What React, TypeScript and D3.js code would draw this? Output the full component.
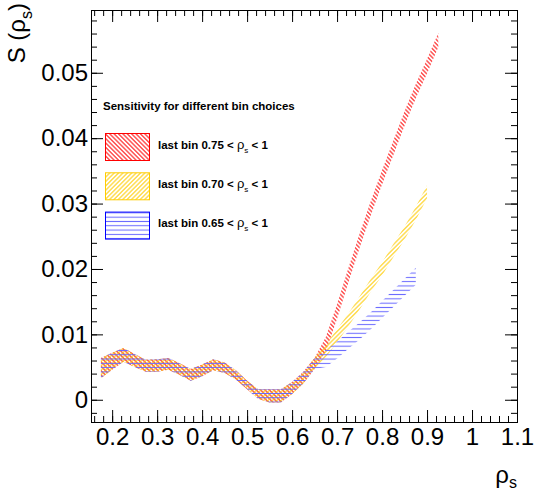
import React, { useEffect, useRef } from "react";
import { select, scaleLinear, area, axisLeft, axisRight, axisTop, axisBottom, range } from "d3";

// common part of the three bands (identical below rho_s ~ 0.65)
const commonX = [0.175, 0.2, 0.225, 0.25, 0.275, 0.3, 0.325, 0.35, 0.375, 0.4, 0.425, 0.45, 0.475, 0.5, 0.525, 0.55, 0.575, 0.6, 0.625, 0.65];
const commonHi = [0.0064, 0.0072, 0.0079, 0.007, 0.0061, 0.0062, 0.0064, 0.0056, 0.0047, 0.0054, 0.0062, 0.0057, 0.0045, 0.0029, 0.0016, 0.0016, 0.0016, 0.0027, 0.0043, 0.0064];
const commonLo = [0.0033, 0.0046, 0.0058, 0.005, 0.0043, 0.0043, 0.0046, 0.0038, 0.0029, 0.0036, 0.0045, 0.0041, 0.0031, 0.0016, 0.0001, -0.0004, -0.0004, 0.0009, 0.0025, 0.0047];

// diverging tails
const tailX = [0.675, 0.7, 0.725, 0.75, 0.775, 0.8, 0.825, 0.85, 0.875, 0.9, 0.925];
const redMid = [0.0085, 0.0135, 0.019, 0.0243, 0.0293, 0.034, 0.0385, 0.043, 0.0472, 0.051, 0.055];
const yellowMid = [0.0075, 0.0098, 0.0122, 0.0148, 0.0175, 0.02, 0.0228, 0.0255, 0.0285, 0.0318];
const blueMid = [0.0063, 0.0076, 0.0091, 0.0105, 0.0121, 0.0138, 0.0155, 0.0172, 0.0189];
const redErr = 0.0011;
const yellowErr = 0.001;
const blueErr = 0.0013;

const legendTitle = "Sensitivity for different bin choices";
const legendLabels = ["last bin 0.75 < ", "last bin 0.70 < ", "last bin 0.65 < "];

const xTicks = [0.2, 0.3, 0.4, 0.5, 0.6, 0.7, 0.8, 0.9, 1.0, 1.1];
const yTicks = [0, 0.01, 0.02, 0.03, 0.04, 0.05];

const FONT = "'Liberation Sans', Arial, Helvetica, sans-serif";

function buildBand(mid: number[], err: number) {
  const pts = commonX.map((x, i) => ({ x, lo: commonLo[i], hi: commonHi[i] }));
  mid.forEach((m, i) => pts.push({ x: tailX[i], lo: m - err, hi: m + err }));
  return pts;
}

export default function App() {
  const ref = useRef<SVGSVGElement>(null);

  useEffect(() => {
    const svg = select(ref.current);
    svg.selectAll("*").remove();

    const x0 = 91, x1 = 517, y0 = 10, y1 = 422;
    const x = scaleLinear().domain([0.153, 1.1]).range([x0, x1]);
    const y = scaleLinear().domain([-0.0034, 0.0596]).range([y1, y0]);

    const defs = svg.append("defs");
    const hatch = (id: string, color: string, angle: number, gap: number) => {
      const p = defs.append("pattern").attr("id", id)
        .attr("patternUnits", "userSpaceOnUse")
        .attr("width", 8).attr("height", gap)
        .attr("patternTransform", `rotate(${angle})`);
      p.append("line").attr("x1", 0).attr("x2", 8)
        .attr("y1", gap / 2).attr("y2", gap / 2)
        .attr("stroke", color).attr("stroke-width", 1);
    };
    hatch("hRed", "#ff0000", 45, 3.1);
    hatch("hYellow", "#ffcc00", -45, 3.1);
    hatch("hBlue", "#6464ff", 0, 4.3);
    defs.append("clipPath").attr("id", "frameClip")
      .append("rect").attr("x", x0).attr("y", y0).attr("width", x1 - x0).attr("height", y1 - y0);

    const bandArea = area<{ x: number; lo: number; hi: number }>()
      .x(d => x(d.x))
      .y0(d => y(d.lo))
      .y1(d => y(d.hi));

    const plot = svg.append("g").attr("clip-path", "url(#frameClip)");
    const series = [
      { data: buildBand(redMid, redErr), fill: "url(#hRed)" },
      { data: buildBand(yellowMid, yellowErr), fill: "url(#hYellow)" },
      { data: buildBand(blueMid, blueErr), fill: "url(#hBlue)" },
    ];
    series.forEach(s => {
      plot.append("path").attr("d", bandArea(s.data)).attr("fill", s.fill).attr("stroke", "none");
    });

    // axes, ROOT style: ticks inside on all four sides
    const fmtX = (d: any) => String(+(+d).toFixed(2));
    const fmtY = (d: any) => (d === 0 ? "0" : (+d).toFixed(2));
    const xMinor = range(8, 56).map(i => i * 0.02);
    const yMinor = range(-1, 30).map(i => i * 0.002);

    const styleAxis = (g: any) => {
      g.select(".domain").remove();
      g.selectAll("line").attr("stroke", "#000");
      g.selectAll("text").attr("font-family", FONT).attr("font-size", 24).attr("fill", "#000");
    };

    svg.append("g").attr("transform", `translate(${x0},0)`)
      .call(axisLeft(y).tickValues(yMinor).tickSize(-6).tickFormat(() => "")).call(styleAxis);
    svg.append("g").attr("transform", `translate(${x0},0)`)
      .call(axisLeft(y).tickValues(yTicks).tickSize(-12).tickPadding(3).tickFormat(fmtY)).call(styleAxis);
    svg.append("g").attr("transform", `translate(${x1},0)`)
      .call(axisRight(y).tickValues(yMinor).tickSize(-6).tickFormat(() => "")).call(styleAxis);
    svg.append("g").attr("transform", `translate(${x1},0)`)
      .call(axisRight(y).tickValues(yTicks).tickSize(-12).tickFormat(() => "")).call(styleAxis);

    svg.append("g").attr("transform", `translate(0,${y1})`)
      .call(axisBottom(x).tickValues(xMinor).tickSize(-6).tickFormat(() => "")).call(styleAxis);
    svg.append("g").attr("transform", `translate(0,${y1})`)
      .call(axisBottom(x).tickValues(xTicks).tickSize(-12).tickPadding(6).tickFormat(fmtX)).call(styleAxis);
    svg.append("g").attr("transform", `translate(0,${y0})`)
      .call(axisTop(x).tickValues(xMinor).tickSize(-6).tickFormat(() => "")).call(styleAxis);
    svg.append("g").attr("transform", `translate(0,${y0})`)
      .call(axisTop(x).tickValues(xTicks).tickSize(-12).tickFormat(() => "")).call(styleAxis);

    svg.append("rect")
      .attr("x", x0 + 0.5).attr("y", y0 + 0.5)
      .attr("width", x1 - x0).attr("height", y1 - y0)
      .attr("fill", "none").attr("stroke", "#000").attr("stroke-width", 1);

    // axis titles
    const xt = svg.append("text").attr("x", x1).attr("y", 483)
      .attr("text-anchor", "end").attr("font-family", FONT).attr("font-size", 24);
    xt.append("tspan").text("ρ");
    xt.append("tspan").attr("font-size", 16).attr("dy", 5).text("s");

    const yt = svg.append("text").attr("transform", `translate(25,3) rotate(-90)`)
      .attr("text-anchor", "end").attr("font-family", FONT).attr("font-size", 24);
    yt.append("tspan").text("S (ρ");
    yt.append("tspan").attr("font-size", 16).attr("dy", 7).text("s");
    yt.append("tspan").attr("dy", -7).text(")");

    // legend
    const leg = svg.append("g");
    leg.append("text").attr("x", 103).attr("y", 110)
      .attr("font-family", FONT).attr("font-size", 11.5).attr("font-weight", "bold")
      .text(legendTitle);
    const legColors = ["#ff0000", "#ffcc00", "#0000ff"];
    const legFills = ["url(#hRed)", "url(#hYellow)", "url(#hBlue)"];
    legendLabels.forEach((lab, i) => {
      const top = 133.5 + i * 39.3;
      leg.append("rect").attr("x", 105.5).attr("y", top).attr("width", 44).attr("height", 27)
        .attr("fill", legFills[i]).attr("stroke", legColors[i]).attr("stroke-width", 1);
      const t = leg.append("text").attr("x", 158).attr("y", top + 15)
        .attr("font-family", FONT).attr("font-size", 11.5).attr("font-weight", "bold");
      t.append("tspan").text(lab);
      t.append("tspan").attr("font-weight", "normal").attr("font-size", 13).text("ρ");
      t.append("tspan").attr("font-weight", "normal").attr("font-size", 8).attr("dy", 4).text("s");
      t.append("tspan").attr("dy", -4).text(" < 1");
    });
  }, []);

  return (
    <svg ref={ref} width={535} height={490}
      style={{ position: "absolute", left: 0, top: 0, background: "#fff" }} />
  );
}
